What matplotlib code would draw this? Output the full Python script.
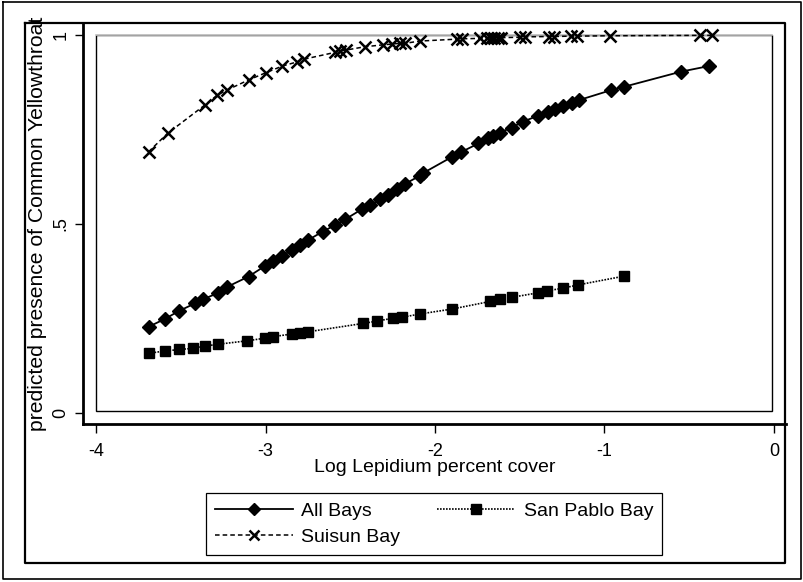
import matplotlib.pyplot as plt
from matplotlib.lines import Line2D
from matplotlib.patches import Rectangle

plt.rcParams['font.family'] = ['Liberation Sans', 'DejaVu Sans']
plt.rcParams['axes.unicode_minus'] = False

# values
all_x = [-3.69, -3.593, -3.51, -3.416, -3.367, -3.278, -3.229, -3.10, -3.003, -2.954,
         -2.904, -2.845, -2.796, -2.747, -2.662, -2.59, -2.531, -2.432, -2.383, -2.324,
         -2.275, -2.226, -2.177, -2.088, -2.073, -1.898, -1.847, -1.744, -1.685, -1.656,
         -1.617, -1.548, -1.479, -1.39, -1.331, -1.29, -1.243, -1.193, -1.149, -0.962,
         -0.885, -0.549, -0.382]
all_y = [0.228, 0.249, 0.270, 0.290, 0.301, 0.318, 0.333, 0.361, 0.389, 0.402,
         0.415, 0.431, 0.444, 0.458, 0.480, 0.497, 0.512, 0.539, 0.550, 0.565,
         0.577, 0.592, 0.606, 0.628, 0.634, 0.678, 0.690, 0.713, 0.727, 0.733,
         0.742, 0.755, 0.771, 0.787, 0.797, 0.804, 0.812, 0.819, 0.828, 0.854,
         0.863, 0.903, 0.918]

sp_x = [-3.69, -3.593, -3.509, -3.426, -3.357, -3.278, -3.107, -3.003, -2.954, -2.845,
        -2.796, -2.747, -2.423, -2.344, -2.246, -2.197, -2.088, -1.90, -1.675, -1.617,
        -1.548, -1.39, -1.341, -1.247, -1.155, -0.885]
sp_y = [0.158, 0.164, 0.168, 0.171, 0.177, 0.182, 0.191, 0.198, 0.202, 0.209,
        0.212, 0.215, 0.237, 0.243, 0.251, 0.253, 0.262, 0.275, 0.295, 0.301,
        0.306, 0.318, 0.323, 0.330, 0.339, 0.362]

su_x = [-3.69, -3.577, -3.357, -3.284, -3.229, -3.10, -2.999, -2.90, -2.812, -2.773,
        -2.59, -2.56, -2.527, -2.413, -2.305, -2.256, -2.207, -2.177, -2.088, -1.872,
        -1.843, -1.735, -1.695, -1.67, -1.65, -1.63, -1.61, -1.50, -1.47, -1.33,
        -1.30, -1.20, -1.16, -0.968, -0.437, -0.368]
su_y = [0.691, 0.740, 0.815, 0.841, 0.854, 0.881, 0.900, 0.918, 0.929, 0.936,
        0.954, 0.958, 0.960, 0.969, 0.974, 0.976, 0.978, 0.978, 0.984, 0.989,
        0.990, 0.991, 0.992, 0.992, 0.993, 0.993, 0.993, 0.994, 0.995, 0.996,
        0.996, 0.997, 0.997, 0.998, 0.999, 0.999]

x_ticks = [-4, -3, -2, -1, 0]
y_ticks = [0, 0.5, 1]
y_ticklabels = ["0", ".5", "1"]

W, H = 804, 582


def fx(px):
    return px / W


def fy(py):
    return 1 - py / H


fig = plt.figure(figsize=(W / 100, H / 100), dpi=100)
ax = fig.add_axes([fx(96), fy(413), (774 - 96) / W, (413 - 35) / H])

l_all, = ax.plot(all_x, all_y, color="black", lw=1.3, marker="D", ms=7.3,
                 label="All Bays", clip_on=False, zorder=3)
l_sp, = ax.plot(sp_x, sp_y, color="black", lw=1.2, ls=(0, (1, 0.8)), marker="s",
                ms=7.8, label="San Pablo Bay", clip_on=False, zorder=3)
l_su, = ax.plot(su_x, su_y, color="black", lw=1.1, ls=(0, (3, 2)), marker="x",
                ms=8, mew=1.8, label="Suisun Bay", clip_on=False, zorder=3)

ax.set_xlim(-4, 0)
ax.set_ylim(0, 1)
ax.set_xticks(x_ticks)
ax.set_yticks(y_ticks)
ax.set_yticklabels(y_ticklabels)

# axes lines sit outside the inner box
ax.spines["left"].set_position(("outward", 9.4))
ax.spines["bottom"].set_position(("outward", 7.9))
for s in ["left", "bottom", "right", "top"]:
    ax.spines[s].set_visible(False)
ax.add_patch(Rectangle((0, 0.005), 0.997, 0.995, transform=ax.transAxes,
                       fill=False, ec="black", lw=1.0, clip_on=False, zorder=1))
ax.plot([0, 0.997], [1, 1], transform=ax.transAxes, color="#c4c4c4", lw=1.2,
        clip_on=False, zorder=1.5)

ax.tick_params(axis="x", length=6.5, width=1, direction="out", labelsize=13, pad=7)
ax.tick_params(axis="y", length=5.8, width=1, direction="out", labelsize=13, pad=4,
               labelrotation=90)
for t in ax.get_yticklabels():
    t.set_va("center")

ax.set_xlabel("Log Lepidium percent cover", fontsize=14)
ax.xaxis.set_label_coords(0.5, -0.122)
fig.text(fx(38), fy(224), "predicted presence of Common Yellowthroat", fontsize=15.2,
         rotation=90, ha="center", va="center")

leg = ax.legend(handles=[l_all, l_su, l_sp], ncol=2, loc="center",
                bbox_to_anchor=(fx(434), fy(524)), bbox_transform=fig.transFigure,
                fontsize=14, handlelength=4.0, handletextpad=0.45, columnspacing=1.9,
                borderpad=0.45, labelspacing=0.45, fancybox=False, framealpha=1,
                markerscale=0.9)
leg.get_frame().set_edgecolor("black")
leg.get_frame().set_linewidth(0.9)

# frames around the plot and the graph
frame = [
    ([83, 83], [23, 424], 2.0),
    ([83, 786], [424, 424], 2.0),
    ([25, 785, 785, 25, 25], [23, 23, 563, 563, 23], 1.6),
    ([3, 801, 801, 3, 3], [2, 2, 579, 579, 2], 1.2),
]
for xs, ys, lw in frame:
    fig.add_artist(Line2D([fx(v) for v in xs], [fy(v) for v in ys], color="black", lw=lw))

fig.savefig("out.png", dpi=100)
